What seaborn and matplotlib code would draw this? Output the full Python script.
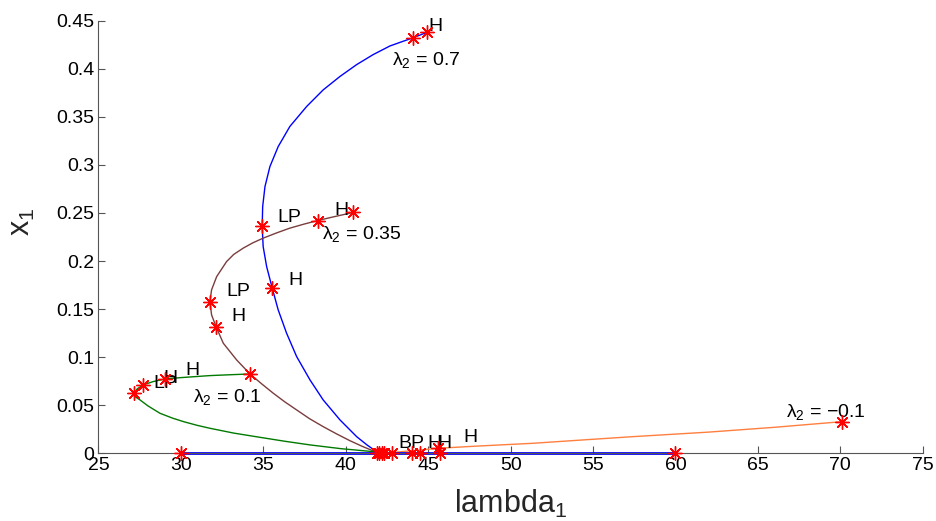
import matplotlib
matplotlib.use("Agg")
import matplotlib.pyplot as plt
import seaborn as sns
import pandas as pd

# ---- data ----
blue_lam = [44.94, 44.05, 43.3, 42.68, 41.66, 40.66, 39.65, 38.63, 37.63, 36.61, 35.9, 35.4,
            35.1, 34.96, 34.93, 34.99, 35.2, 35.54, 35.9, 36.41, 37.02, 37.83, 38.63, 39.65,
            40.66, 41.3, 41.87, 41.9]
blue_x = [0.438, 0.432, 0.4275, 0.4237, 0.4147, 0.4043, 0.392, 0.378, 0.3608, 0.340, 0.319, 0.2983,
          0.2775, 0.2567, 0.2359, 0.215, 0.1942, 0.1718, 0.1492, 0.1249, 0.1006, 0.0763, 0.0555,
          0.0347, 0.0173, 0.0085, 0.0017, 0.0]

brown_lam = [40.45, 39.4, 38.29, 37.45, 36.61, 35.8, 34.99, 34.35, 33.78, 33.2, 32.77, 32.17,
             31.86, 31.76, 31.86, 32.13, 32.57, 33.38, 34.19, 34.9, 35.6, 36.3, 37.02, 37.8,
             38.63, 39.45, 40.25, 41.0, 41.66, 41.9]
brown_x = [0.2505, 0.2465, 0.2421, 0.2383, 0.2342, 0.2292, 0.2238, 0.2188, 0.2134, 0.2068, 0.1994,
           0.1838, 0.170, 0.1578, 0.144, 0.1318, 0.1145, 0.0971, 0.0825, 0.0722, 0.0625, 0.0535,
           0.0451, 0.036, 0.0277, 0.0201, 0.0131, 0.0072, 0.0025, 0.0]

green_lam = [34.19, 33.0, 31.76, 30.0, 29.03, 28.3, 27.72, 27.35, 27.15, 27.25, 27.52, 28.0,
             28.73, 29.5, 30.2, 31.0, 31.76, 33.2, 34.79, 36.3, 37.83, 39.7, 41.66, 42.0]
green_x = [0.0825, 0.0817, 0.0808, 0.0787, 0.0773, 0.0745, 0.0711, 0.067, 0.0625, 0.0585, 0.0555,
           0.0493, 0.0416, 0.0365, 0.0327, 0.029, 0.026, 0.021, 0.0166, 0.0125, 0.0087, 0.0048,
           0.0017, 0.0]

orange_lam = [42.0, 43.28, 45.61, 48.0, 51.37, 54.5, 57.43, 62.0, 66.0, 70.11]
orange_x = [0.0, 0.0015, 0.0052, 0.0075, 0.0104, 0.014, 0.0173, 0.022, 0.027, 0.0329]

base_lam = [30.0, 60.0]
base_x = [0.0, 0.0]

pt_lam = [30.0, 41.87, 42.0, 42.17, 42.3, 42.78, 43.99, 44.5, 45.7, 60.0,
          35.54, 34.93, 44.05, 44.94,
          31.76, 32.13, 38.29, 40.45,
          27.15, 27.72, 29.03, 34.19,
          45.61, 70.11]
pt_x = [0, 0, 0, 0, 0, 0, 0, 0, 0, 0,
        0.1718, 0.2359, 0.432, 0.438,
        0.1578, 0.1318, 0.2421, 0.2505,
        0.0625, 0.0711, 0.0773, 0.0825,
        0.0052, 0.0329]

lab_text = ["H", "LP", "H", "H", "LP", "H", "H", "LP", "H", "BP", "H", "H", "H"]
lab_lam = [45.0, 35.87, 39.28, 36.51, 32.73, 33.08, 30.25, 28.32, 28.93, 43.18, 44.96, 45.55, 47.12]
lab_x = [0.4389, 0.241, 0.248, 0.1752, 0.1637, 0.138, 0.0815, 0.0677, 0.0735, 0.0052, 0.0052, 0.0052, 0.0121]

lam2_text = ["λ$_2$ = 0.7", "λ$_2$ = 0.35", "λ$_2$ = 0.1", "λ$_2$ = \u22120.1"]
lam2_lam = [42.78, 38.53, 30.75, 66.69]
lam2_x = [0.404, 0.2224, 0.0537, 0.0375]

xticks = [25, 30, 35, 40, 45, 50, 55, 60, 65, 70, 75]
yticks = [0, 0.05, 0.1, 0.15, 0.2, 0.25, 0.3, 0.35, 0.4, 0.45]
ytick_labels = ["0", "0.05", "0.1", "0.15", "0.2", "0.25", "0.3", "0.35", "0.4", "0.45"]

# ---- style ----
sns.set_theme(style="ticks")
plt.rcParams["font.family"] = ["Liberation Sans", "DejaVu Sans"]
plt.rcParams["mathtext.fontset"] = "custom"
plt.rcParams["mathtext.rm"] = "Liberation Sans"
plt.rcParams["mathtext.it"] = "Liberation Sans"
plt.rcParams["mathtext.bf"] = "Liberation Sans:bold"

fig = plt.figure(figsize=(9.37, 5.21), dpi=100)
ax = fig.add_axes([0.1051, 0.130, 0.8797, 0.8303])

curves = [
    (blue_lam, blue_x, "#0000ff", 1.0),
    (brown_lam, brown_x, "#7a3d3d", 1.0),
    (green_lam, green_x, "#007a00", 1.0),
    (orange_lam, orange_x, "#ff7f3f", 1.0),
    (base_lam, base_x, "#0000ff", 2.0),
]
for lam, xv, col, lw in curves:
    df = pd.DataFrame({"lam": lam, "x": xv})
    sns.lineplot(data=df, x="lam", y="x", sort=False, estimator=None,
                 color=col, linewidth=lw, ax=ax, clip_on=False)

pts = pd.DataFrame({"lam": pt_lam, "x": pt_x})
sns.scatterplot(data=pts, x="lam", y="x", marker=(8, 2, 0), s=95, color="red",
                linewidth=1.0, ax=ax, clip_on=False, zorder=5)

for t, lx, ly in zip(lab_text, lab_lam, lab_x):
    ax.text(lx, ly, t, fontsize=14, ha="left", va="baseline", color="black")
for t, lx, ly in zip(lam2_text, lam2_lam, lam2_x):
    ax.text(lx, ly, t, fontsize=14, ha="left", va="baseline", color="black")

ax.set_xlim(25, 75)
ax.set_ylim(0, 0.45)
ax.set_xticks(xticks)
ax.set_xticklabels([str(v) for v in xticks])
ax.set_yticks(yticks)
ax.set_yticklabels(ytick_labels)
ax.tick_params(direction="in", length=5, width=0.8, color="#555555",
               labelsize=14, labelcolor="black", pad=3)
for s in ["top", "right"]:
    ax.spines[s].set_visible(False)
for s in ["left", "bottom"]:
    ax.spines[s].set_color("#555555")
    ax.spines[s].set_linewidth(0.8)

ax.set_xlabel("lambda$_1$", fontsize=22)
ax.xaxis.set_label_coords(0.5, -0.08)
ax.set_ylabel("x$_1$", fontsize=22)
ax.yaxis.set_label_coords(-0.074, 0.535)

fig.savefig("out.png", dpi=100)
